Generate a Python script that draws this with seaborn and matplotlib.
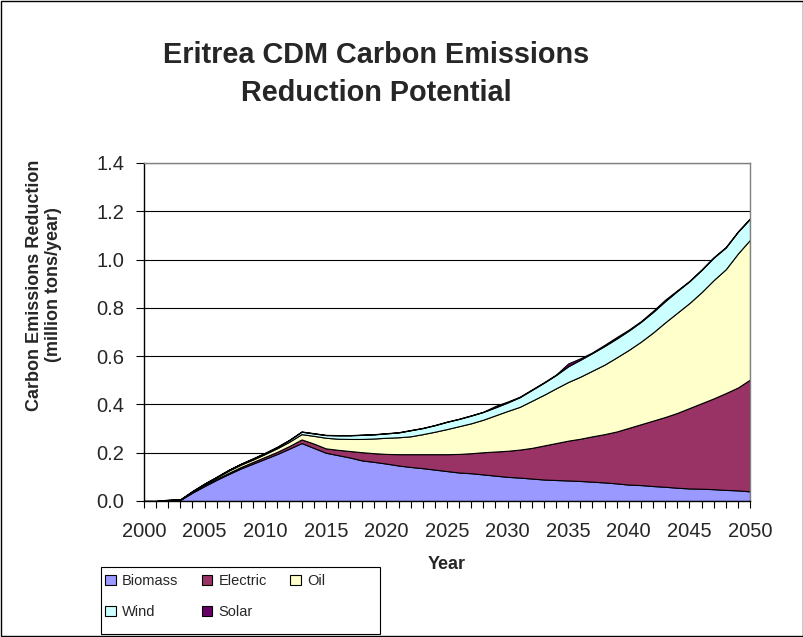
import numpy as np
import pandas as pd
import matplotlib
matplotlib.use("Agg")
import matplotlib.pyplot as plt
from matplotlib.patches import Rectangle, Patch
import seaborn as sns

years = list(range(2000, 2051))

biomass = [0, 0, 0.003, 0.005, 0.035, 0.062, 0.088, 0.112, 0.135, 0.155,
           0.175, 0.195, 0.217, 0.240, 0.220, 0.200, 0.190, 0.180, 0.168, 0.162,
           0.155, 0.147, 0.141, 0.136, 0.130, 0.124, 0.118, 0.115, 0.110, 0.105,
           0.100, 0.097, 0.093, 0.089, 0.087, 0.085, 0.083, 0.080, 0.077, 0.073,
           0.068, 0.066, 0.062, 0.059, 0.055, 0.052, 0.051, 0.049, 0.046, 0.044,
           0.040]
electric = [0, 0, 0, 0, 0.002, 0.003, 0.004, 0.005, 0.006, 0.007,
            0.008, 0.009, 0.011, 0.015, 0.018, 0.018, 0.022, 0.027, 0.034, 0.036,
            0.040, 0.047, 0.053, 0.058, 0.064, 0.070, 0.077, 0.083, 0.092, 0.100,
            0.108, 0.116, 0.127, 0.141, 0.153, 0.165, 0.175, 0.188, 0.200, 0.215,
            0.235, 0.252, 0.271, 0.289, 0.310, 0.333, 0.354, 0.376, 0.401, 0.426,
            0.463]
oil = [0, 0, 0.001, 0.001, 0.003, 0.005, 0.006, 0.009, 0.010, 0.010,
       0.012, 0.015, 0.018, 0.022, 0.032, 0.044, 0.046, 0.050, 0.055, 0.061,
       0.067, 0.070, 0.074, 0.083, 0.093, 0.104, 0.115, 0.124, 0.135, 0.150,
       0.165, 0.177, 0.195, 0.210, 0.227, 0.243, 0.257, 0.272, 0.288, 0.307,
       0.323, 0.342, 0.365, 0.392, 0.415, 0.435, 0.460, 0.490, 0.513, 0.555,
       0.579]
wind = [0, 0, 0, 0, 0.001, 0.002, 0.002, 0.003, 0.003, 0.004,
        0.004, 0.005, 0.007, 0.010, 0.010, 0.011, 0.014, 0.015, 0.017, 0.017,
        0.018, 0.020, 0.025, 0.025, 0.027, 0.030, 0.030, 0.032, 0.032, 0.033,
        0.035, 0.040, 0.045, 0.050, 0.055, 0.065, 0.070, 0.073, 0.077, 0.078,
        0.080, 0.082, 0.085, 0.088, 0.090, 0.090, 0.092, 0.093, 0.090, 0.090,
        0.087]
solar = [0, 0, 0.002, 0.002, 0.001, 0.001, 0.001, 0.001, 0.001, 0.001,
         0.001, 0.001, 0.001, 0.001, 0.001, 0.001, 0.001, 0.001, 0.001, 0.001,
         0.001, 0.001, 0.001, 0.001, 0.001, 0.001, 0.001, 0.001, 0.001, 0.006,
         0.004, 0.002, 0.002, 0.002, 0.002, 0.012, 0.006, 0.003, 0.005, 0.006,
         0.004, 0.003, 0.005, 0.006, 0.003, 0.002, 0.002, 0.002, 0.002, 0.002,
         0.002]

series_names = ["Biomass", "Electric", "Oil", "Wind", "Solar"]
series_colors = ["#9999FF", "#993366", "#FFFFCC", "#CCFFFF", "#660066"]

df = pd.DataFrame({"Year": years, "Biomass": biomass, "Electric": electric,
                   "Oil": oil, "Wind": wind, "Solar": solar})

sns.set_theme(style="white")
plt.rcParams["font.family"] = ["Liberation Sans", "DejaVu Sans"]

W, H = 804, 637
fig = plt.figure(figsize=(W / 100, H / 100), dpi=100)
ax = fig.add_axes([144 / W, 1 - 501 / H, (750 - 144) / W, (501 - 163) / H])

palette = sns.color_palette(series_colors)
polys = ax.stackplot(df["Year"], *[df[n] for n in series_names],
                     colors=palette, labels=series_names,
                     edgecolor="black", linewidth=0.8, zorder=2)

ax.set_xlim(2000, 2050)
ax.set_ylim(0, 1.4)
yt = np.arange(0, 1.41, 0.2)
ax.set_yticks(yt)
ax.set_yticklabels([f"{v:.1f}" for v in yt], fontsize=14.5)
ax.set_xticks(range(2000, 2051, 5))
ax.set_xticklabels([str(y) for y in range(2000, 2051, 5)], fontsize=14.5)
ax.set_xticks(range(2000, 2051), minor=True)
ax.tick_params(axis="x", which="both", direction="out", length=5, width=0.8,
               color="black", bottom=True, pad=10)
ax.tick_params(axis="y", which="both", direction="out", length=6, width=0.8,
               color="black", left=True, pad=8)

ax.yaxis.grid(True, color="#000000", linewidth=0.8, zorder=1)
ax.xaxis.grid(False)
ax.set_axisbelow(True)

for side in ["left", "bottom"]:
    ax.spines[side].set_color("black")
    ax.spines[side].set_linewidth(1.0)
for side in ["top", "right"]:
    ax.spines[side].set_color("#808080")
    ax.spines[side].set_linewidth(1.0)

ax.set_xlabel("Year", fontsize=13, fontweight="bold", labelpad=11)

fig.text(44 / W, 1 - 285 / H, "Carbon Emissions Reduction\n(million tons/year)",
         rotation=90, ha="center", va="center", multialignment="center",
         fontsize=13, fontweight="bold", linespacing=1.2)

fig.text(376 / W, 1 - 55 / H, "Eritrea CDM Carbon Emissions", ha="center",
         va="center", fontsize=20.8, fontweight="bold")
fig.text(376 / W, 1 - 93 / H, "Reduction Potential", ha="center",
         va="center", fontsize=20.8, fontweight="bold")

order = ["Biomass", "Wind", "Electric", "Solar", "Oil"]
leg_handles = [Patch(facecolor=series_colors[series_names.index(n)],
                     edgecolor="black", linewidth=0.8) for n in order]
leg = fig.legend(leg_handles, order, ncol=3, loc="upper left",
                 bbox_to_anchor=(101 / W, 1 - 570 / H),
                 fontsize=10.5, frameon=False,
                 handlelength=0.7, handleheight=0.7, handletextpad=0.45,
                 labelspacing=1.15, columnspacing=1.6, borderpad=0.3,
                 borderaxespad=0)

fig.add_artist(Rectangle((101 / W, 1 - 634 / H), 279 / W, 67 / H,
                         transform=fig.transFigure, fill=False,
                         edgecolor="black", linewidth=0.8))
fig.add_artist(Rectangle((0.001, 0.001), 0.998, 0.998, transform=fig.transFigure,
                         fill=False, edgecolor="black", linewidth=1.0))

fig.savefig("out.png", dpi=100, facecolor="white")
